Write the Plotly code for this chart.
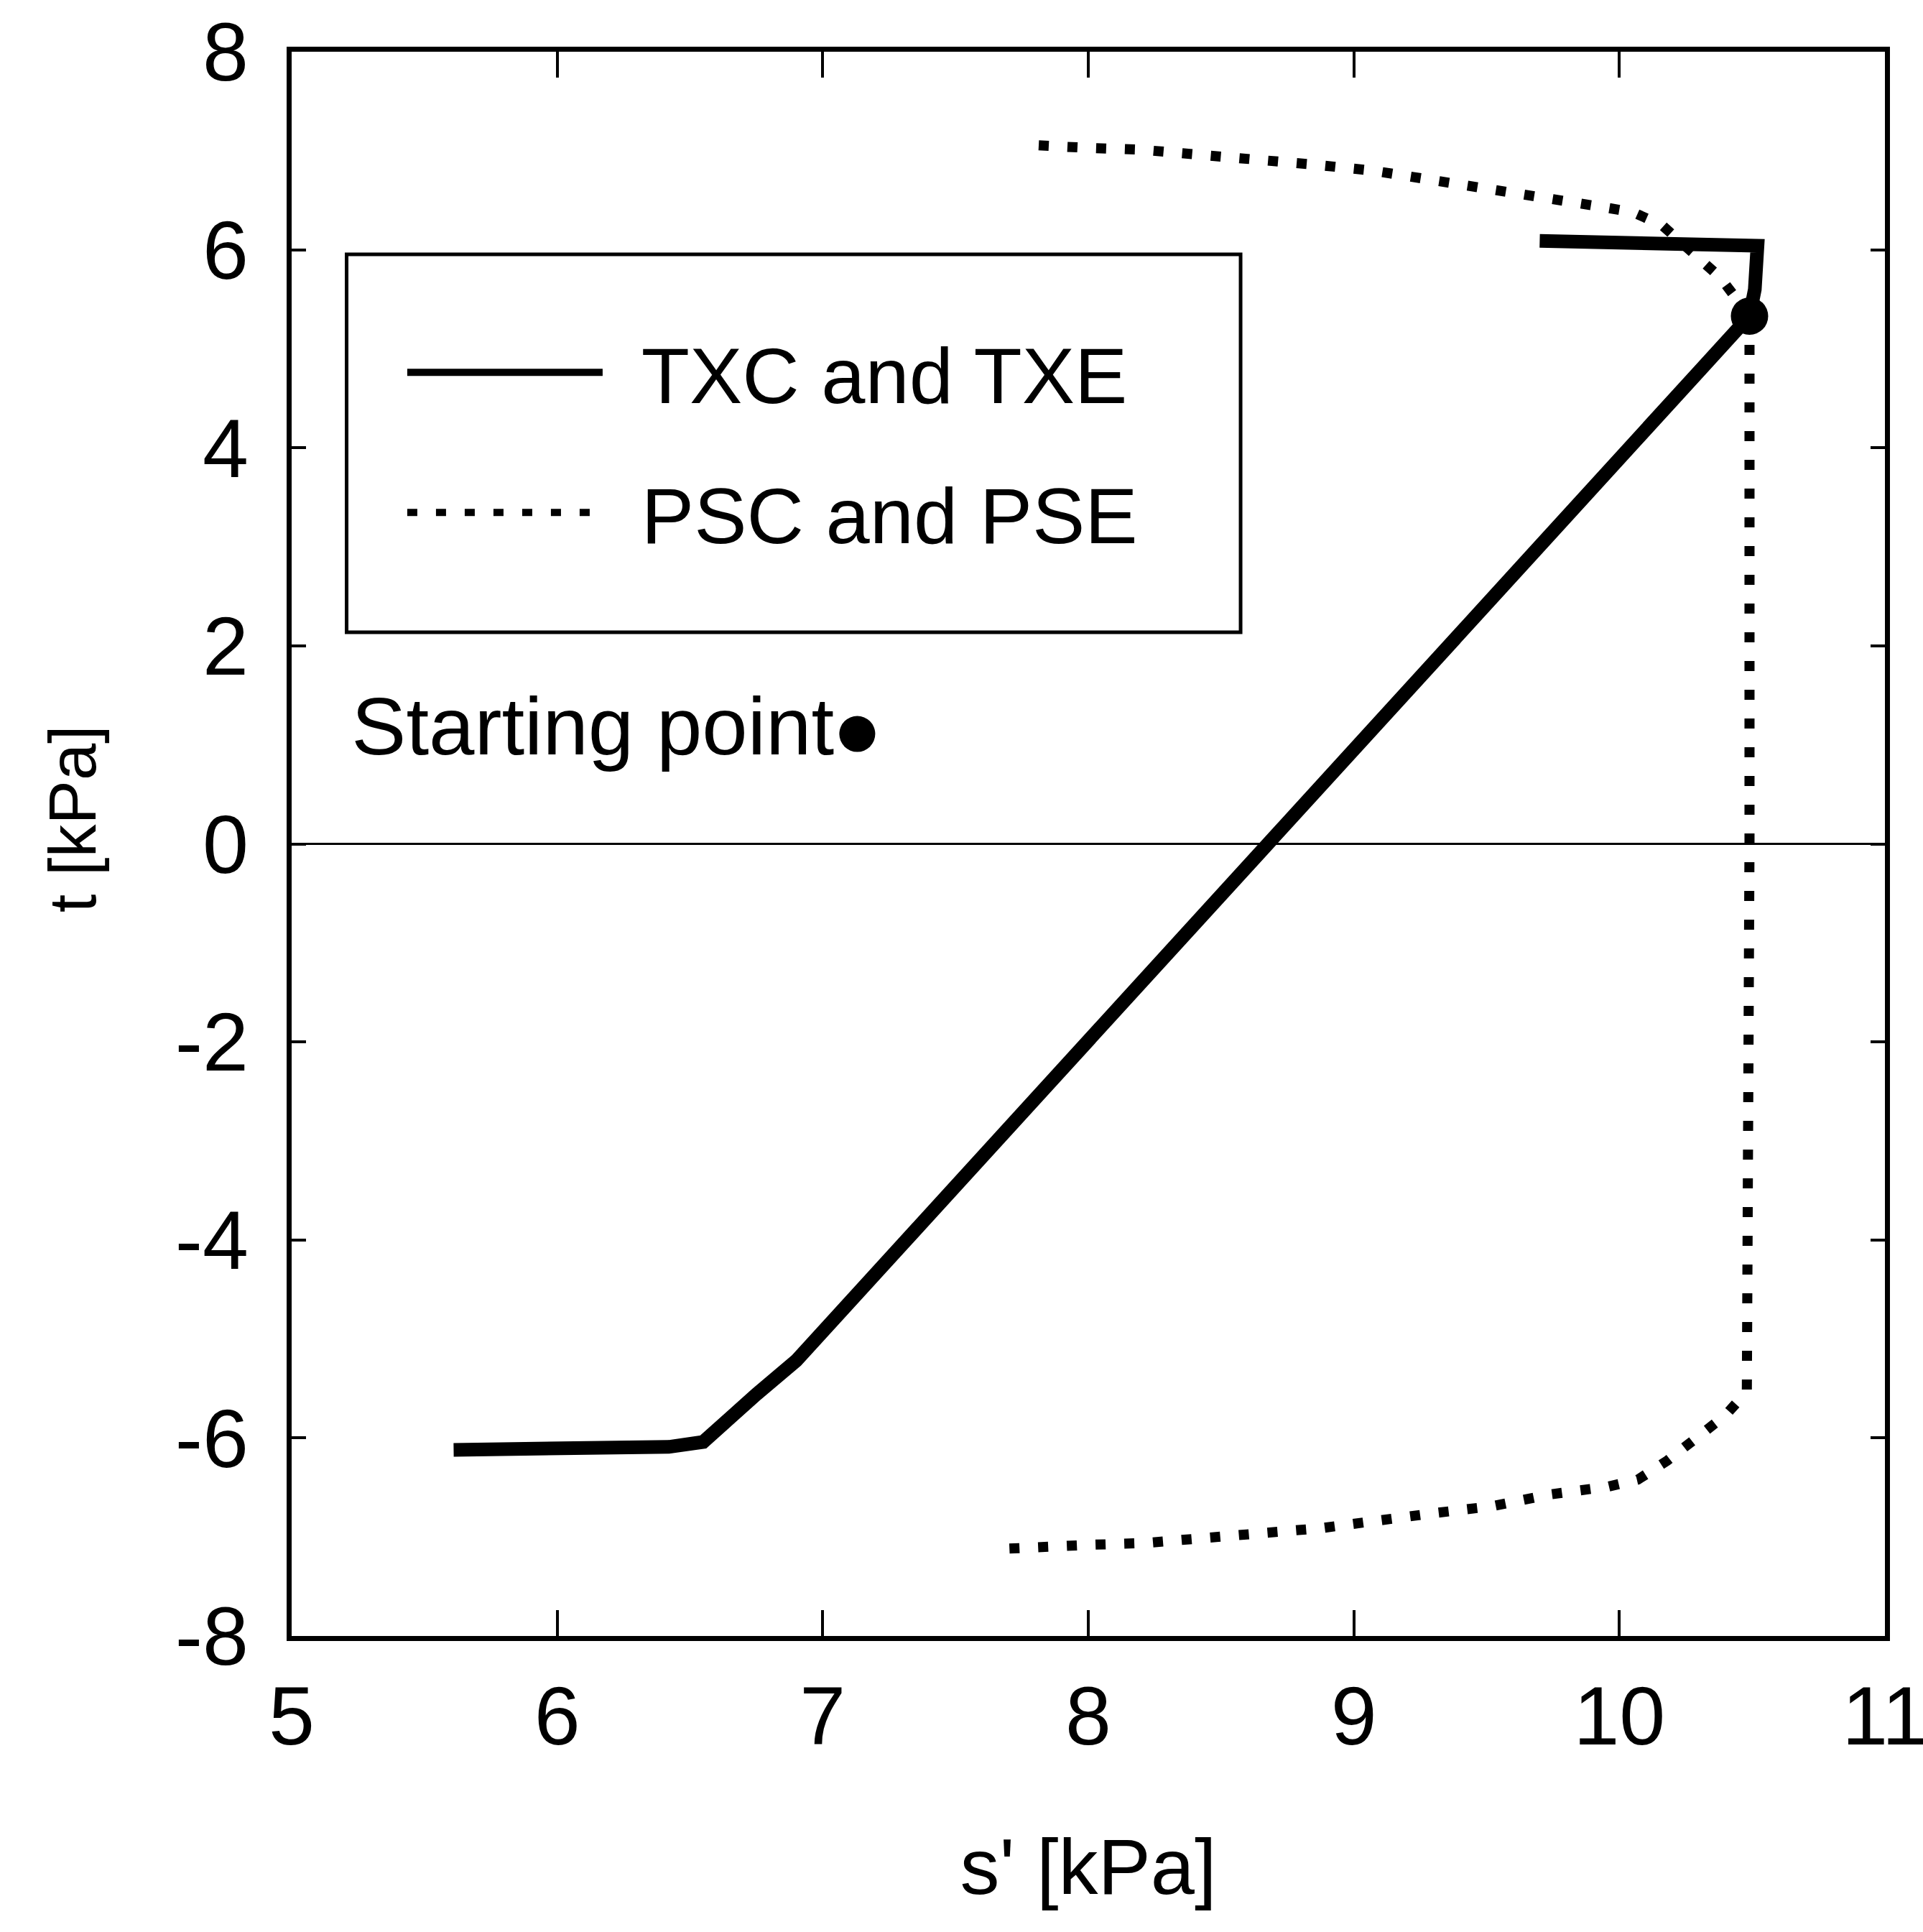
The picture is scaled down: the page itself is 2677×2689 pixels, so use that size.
import plotly.graph_objects as go

# Stress paths in s'-t space [kPa]
txc_s = [10.49, 10.51, 10.52, 10.20, 9.70]
txc_t = [5.33, 5.60, 6.04, 6.06, 6.09]
txe_s = [10.49, 8.68, 6.90, 6.75, 6.65, 6.55, 6.42, 5.61]
txe_t = [5.33, 0.00, -5.22, -5.56, -5.80, -6.04, -6.09, -6.12]

psc_s = [10.49, 10.38, 10.16, 10.05, 9.94, 9.72, 9.51, 9.29, 9.07, 8.85, 8.64, 8.42, 8.20, 7.99, 7.77]
psc_t = [5.33, 5.72, 6.25, 6.38, 6.43, 6.53, 6.61, 6.71, 6.80, 6.86, 6.91, 6.96, 7.01, 7.03, 7.06]
pse_s = [10.49, 10.49, 10.48, 10.40, 10.29, 10.18, 10.07, 9.96, 9.74, 9.52, 9.30,
         9.10, 8.88, 8.66, 8.44, 8.22, 8.00, 7.79, 7.68]
pse_t = [5.33, 0.00, -5.53, -5.77, -6.00, -6.23, -6.42, -6.49, -6.57, -6.69, -6.76,
         -6.84, -6.91, -6.96, -7.01, -7.06, -7.08, -7.12, -7.12]

start_s = [10.49]
start_t = [5.33]
key_s = [7.13]
key_t = [1.11]

x_ticks = [5, 6, 7, 8, 9, 10, 11]
x_labels = ["5", "6", "7", "8", "9", "10", "11"]
y_ticks = [-8, -6, -4, -2, 0, 2, 4, 6, 8]
y_labels = ["-8", "-6", "-4", "-2", "0", "2", "4", "6", "8"]

FONT = "Liberation Sans, Arial, sans-serif"
SOLID = dict(color="black", width=19)
DOTTED = dict(color="black", width=14, dash="14px,26px")
GAP = "\u00a0\u2006"  # spacing between legend symbol and label

fig = go.Figure()
fig.add_trace(go.Scatter(x=txc_s, y=txc_t, mode="lines", line=SOLID,
                         name=GAP + "TXC and TXE", legendgroup="tx", showlegend=True))
fig.add_trace(go.Scatter(x=txe_s, y=txe_t, mode="lines", line=SOLID,
                         name="TXC and TXE", legendgroup="tx", showlegend=False))
fig.add_trace(go.Scatter(x=psc_s, y=psc_t, mode="lines", line=DOTTED,
                         name=GAP + "PSC and PSE", legendgroup="ps", showlegend=True))
fig.add_trace(go.Scatter(x=pse_s, y=pse_t, mode="lines", line=DOTTED,
                         name="PSC and PSE", legendgroup="ps", showlegend=False))
fig.add_trace(go.Scatter(x=start_s, y=start_t, mode="markers",
                         marker=dict(color="black", size=52), showlegend=False))
fig.add_trace(go.Scatter(x=key_s, y=key_t, mode="markers+text",
                         marker=dict(color="black", size=50),
                         text=["Starting point"], textposition="middle left",
                         textfont=dict(family=FONT, size=114, color="black"),
                         showlegend=False))

axis_common = dict(
    showline=True, linecolor="black", linewidth=7, mirror="ticks",
    ticks="inside", tickcolor="black", tickwidth=4,
    showgrid=False, ticklabeloverflow="allow", automargin=False,
    tickfont=dict(family=FONT, size=115, color="black"),
)

fig.update_xaxes(range=[5, 11], tickvals=x_ticks, ticktext=x_labels, ticklen=36,
                 zeroline=False, ticklabelstandoff=6,
                 title_text="s' [kPa]", title_standoff=110,
                 title_font=dict(family=FONT, size=110, color="black"),
                 **axis_common)
fig.update_yaxes(range=[-8, 8], tickvals=y_ticks, ticktext=y_labels, ticklen=20,
                 zeroline=True, zerolinecolor="black", zerolinewidth=3,
                 ticklabelstandoff=30, **axis_common)

# y-axis title
fig.add_annotation(text="t [kPa]", textangle=-90, xref="paper", yref="paper",
                   x=-0.1375, y=0.5156, xanchor="center", yanchor="middle",
                   showarrow=False,
                   font=dict(family=FONT, size=92, color="black"))

# frame around the legend
fig.add_shape(type="rect", xref="paper", yref="paper",
              x0=0.0345, x1=0.5956, y0=0.6336, y1=0.8721,
              line=dict(color="black", width=5), fillcolor="rgba(0,0,0,0)")

fig.update_layout(
    width=2677, height=2689,
    margin=dict(l=406, r=53, t=72, b=412),
    paper_bgcolor="white", plot_bgcolor="white",
    font=dict(family=FONT, size=110, color="black"),
    legend=dict(x=0.0703, y=0.833, xanchor="left", yanchor="top",
                bgcolor="rgba(0,0,0,0)", borderwidth=0,
                itemwidth=272, tracegroupgap=49,
                font=dict(family=FONT, size=110, color="black")),
    showlegend=True,
)

fig.write_html("out.html")
